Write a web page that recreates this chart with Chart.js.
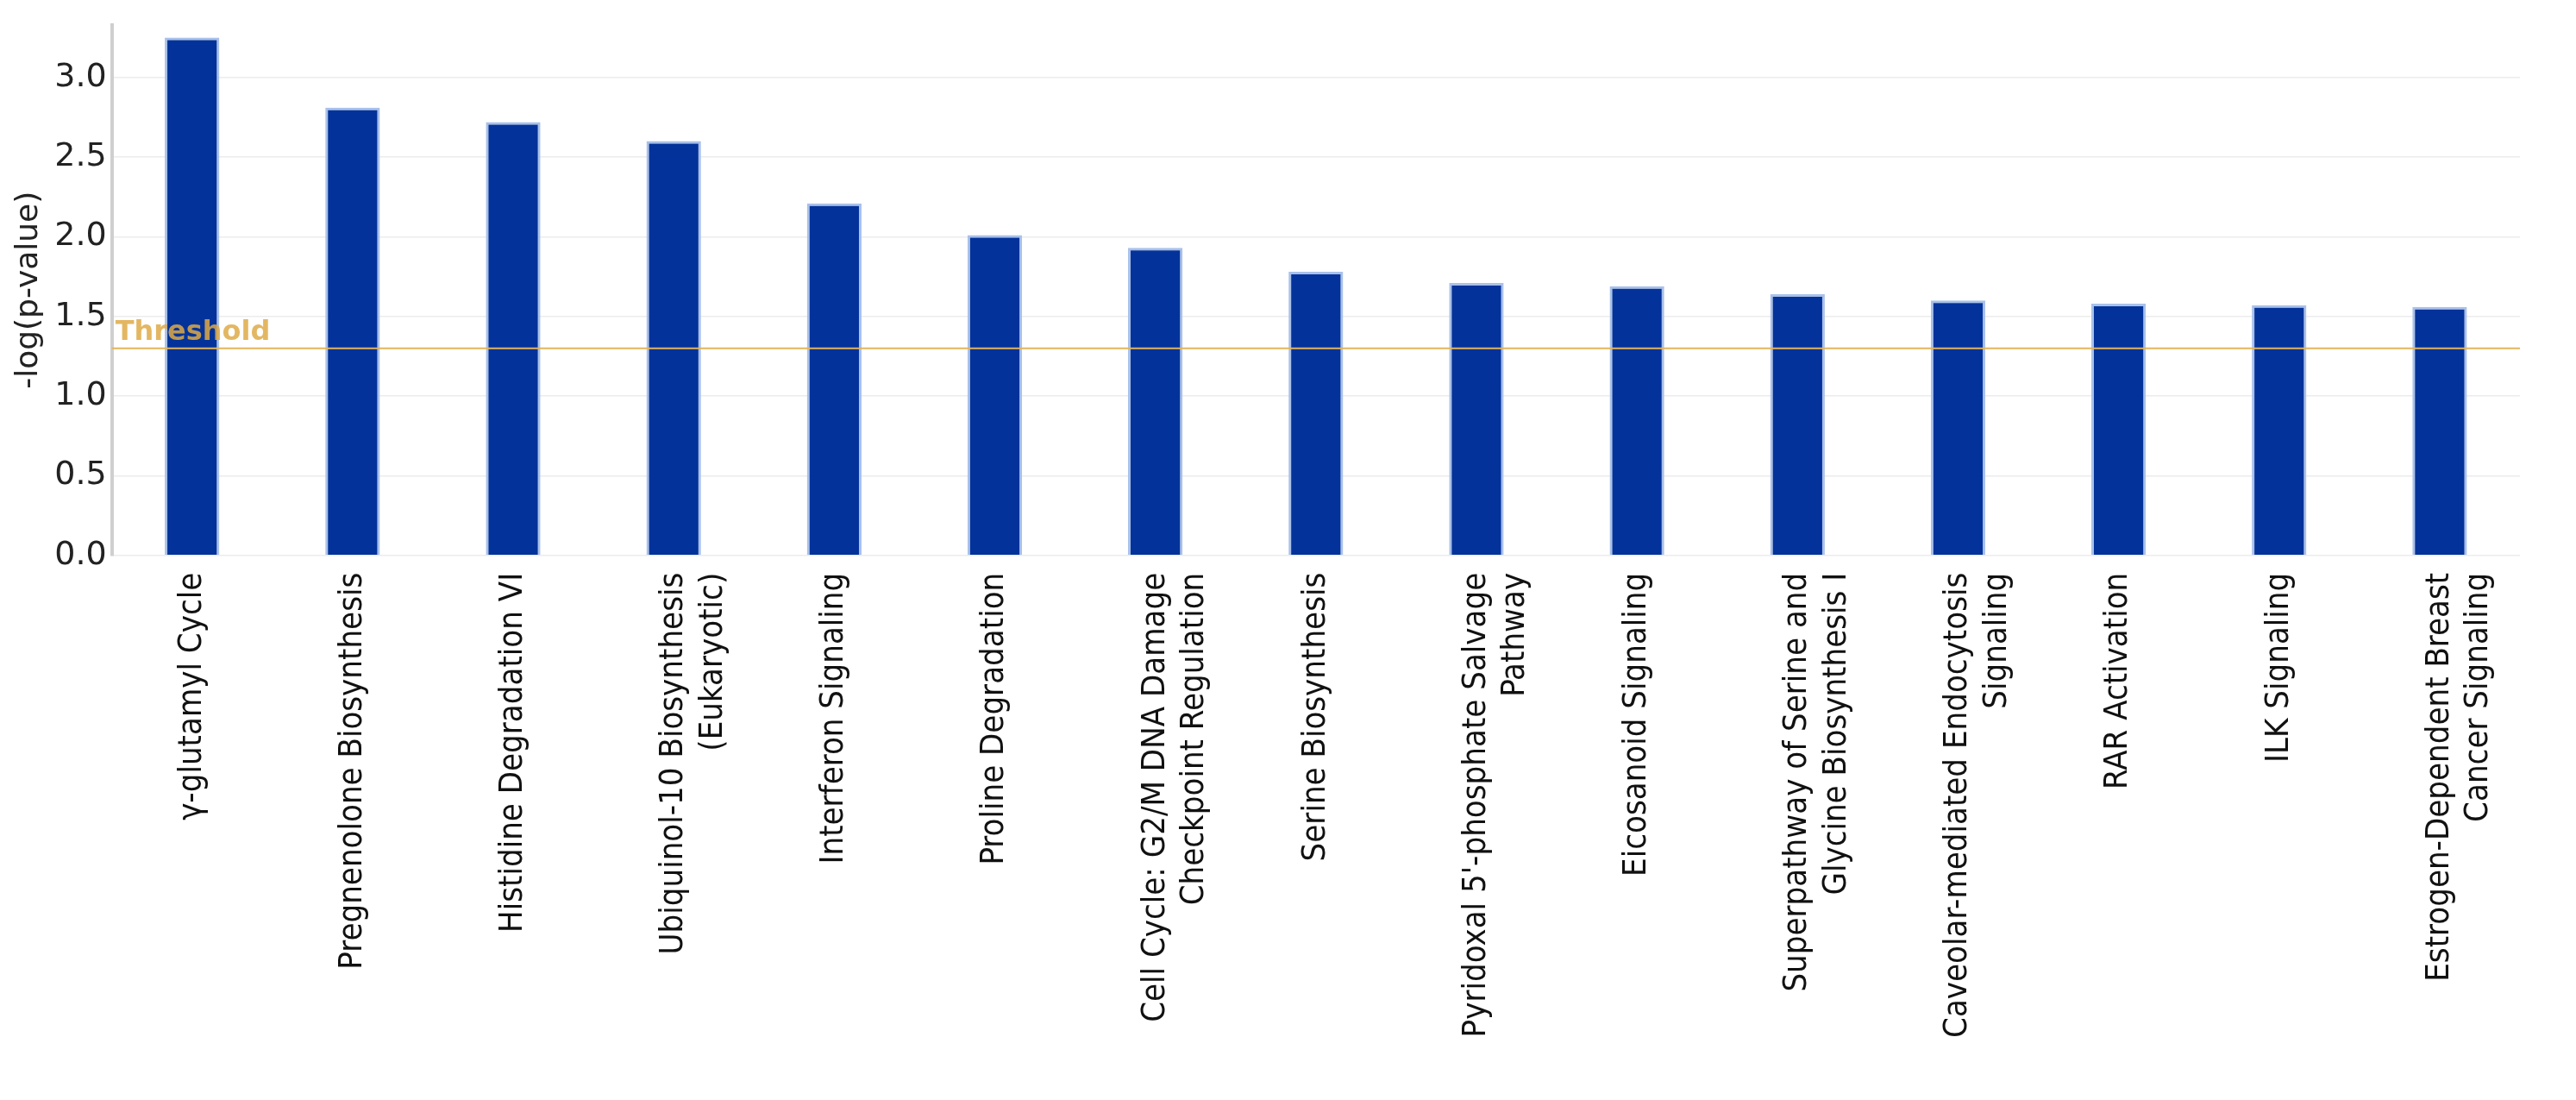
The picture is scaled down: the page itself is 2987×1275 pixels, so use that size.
<!DOCTYPE html>
<html>
<head>
<meta charset="utf-8">
<script src="https://cdn.jsdelivr.net/npm/chart.js@4"></script>
<style>
  html, body { margin: 0; background: #fff; }
  #wrap { width: 2987px; height: 1275px; }
</style>
</head>
<body>
<div id="wrap"><canvas id="chart"></canvas></div>
<script>
// --- data ---
const categories = [
    ['γ-glutamyl Cycle'],
    ['Pregnenolone Biosynthesis'],
    ['Histidine Degradation VI'],
    ['Ubiquinol-10 Biosynthesis', '(Eukaryotic)'],
    ['Interferon Signaling'],
    ['Proline Degradation'],
    ['Cell Cycle: G2/M DNA Damage', 'Checkpoint Regulation'],
    ['Serine Biosynthesis'],
    ["Pyridoxal 5'-phosphate Salvage", 'Pathway'],
    ['Eicosanoid Signaling'],
    ['Superpathway of Serine and', 'Glycine Biosynthesis I'],
    ['Caveolar-mediated Endocytosis', 'Signaling'],
    ['RAR Activation'],
    ['ILK Signaling'],
    ['Estrogen-Dependent Breast', 'Cancer Signaling']
];
const logP = [3.25, 2.81, 2.72, 2.60, 2.21, 2.01, 1.93, 1.78, 1.71, 1.69, 1.64, 1.60, 1.58, 1.57, 1.56];
const yTicks = [0, 0.5, 1.0, 1.5, 2.0, 2.5, 3.0];
const threshold = 1.3;

// threshold line + label
const thresholdLine = {
    id: 'thresholdLine',
    afterDatasetsDraw(chart) {
        const { ctx, chartArea, scales } = chart;
        const y = scales.y.getPixelForValue(threshold);
        ctx.save();
        ctx.strokeStyle = '#e3b55a';
        ctx.lineWidth = 2;
        ctx.beginPath();
        ctx.moveTo(chartArea.left, y);
        ctx.lineTo(chartArea.right, y);
        ctx.stroke();
        ctx.fillStyle = 'rgba(222,170,70,0.85)';
        ctx.font = 'bold 32px "DejaVu Sans"';
        ctx.textBaseline = 'bottom';
        ctx.fillText('Threshold', chartArea.left + 4, y - 2);
        ctx.restore();
    }
};

new Chart(document.getElementById('chart'), {
    type: 'bar',
    data: {
        labels: categories,
        datasets: [{
            data: logP,
            backgroundColor: '#03329a',
            borderColor: '#a9c1ea',
            borderWidth: 3,
            barPercentage: 0.34,
            categoryPercentage: 1.0
        }]
    },
    options: {
        responsive: true,
        maintainAspectRatio: false,
        animation: false,
        layout: { padding: { top: 15, right: 65, left: 10, bottom: 60 } },
        plugins: { legend: { display: false }, tooltip: { enabled: false } },
        scales: {
            x: {
                grid: { display: false },
                border: { display: false },
                ticks: {
                    color: '#111',
                    font: { family: '"DejaVu Sans Condensed", "Liberation Sans Narrow", sans-serif', size: 38 },
                    minRotation: 90,
                    maxRotation: 90,
                    autoSkip: false,
                    padding: 12
                }
            },
            y: {
                min: 0,
                max: 3.33,
                afterBuildTicks(axis) { axis.ticks = yTicks.map(v => ({ value: v })); },
                grid: { color: '#ececec', lineWidth: 1.5, drawTicks: false },
                border: { color: '#cfcfcf', width: 4 },
                ticks: {
                    color: '#222',
                    font: { family: '"DejaVu Sans"', size: 38 },
                    padding: 6,
                    callback: v => v.toFixed(1)
                },
                title: {
                    display: true,
                    text: '-log(p-value)',
                    color: '#222',
                    font: { family: '"DejaVu Sans"', size: 36 },
                    padding: 2
                }
            }
        }
    },
    plugins: [thresholdLine]
});
</script>
</body>
</html>
